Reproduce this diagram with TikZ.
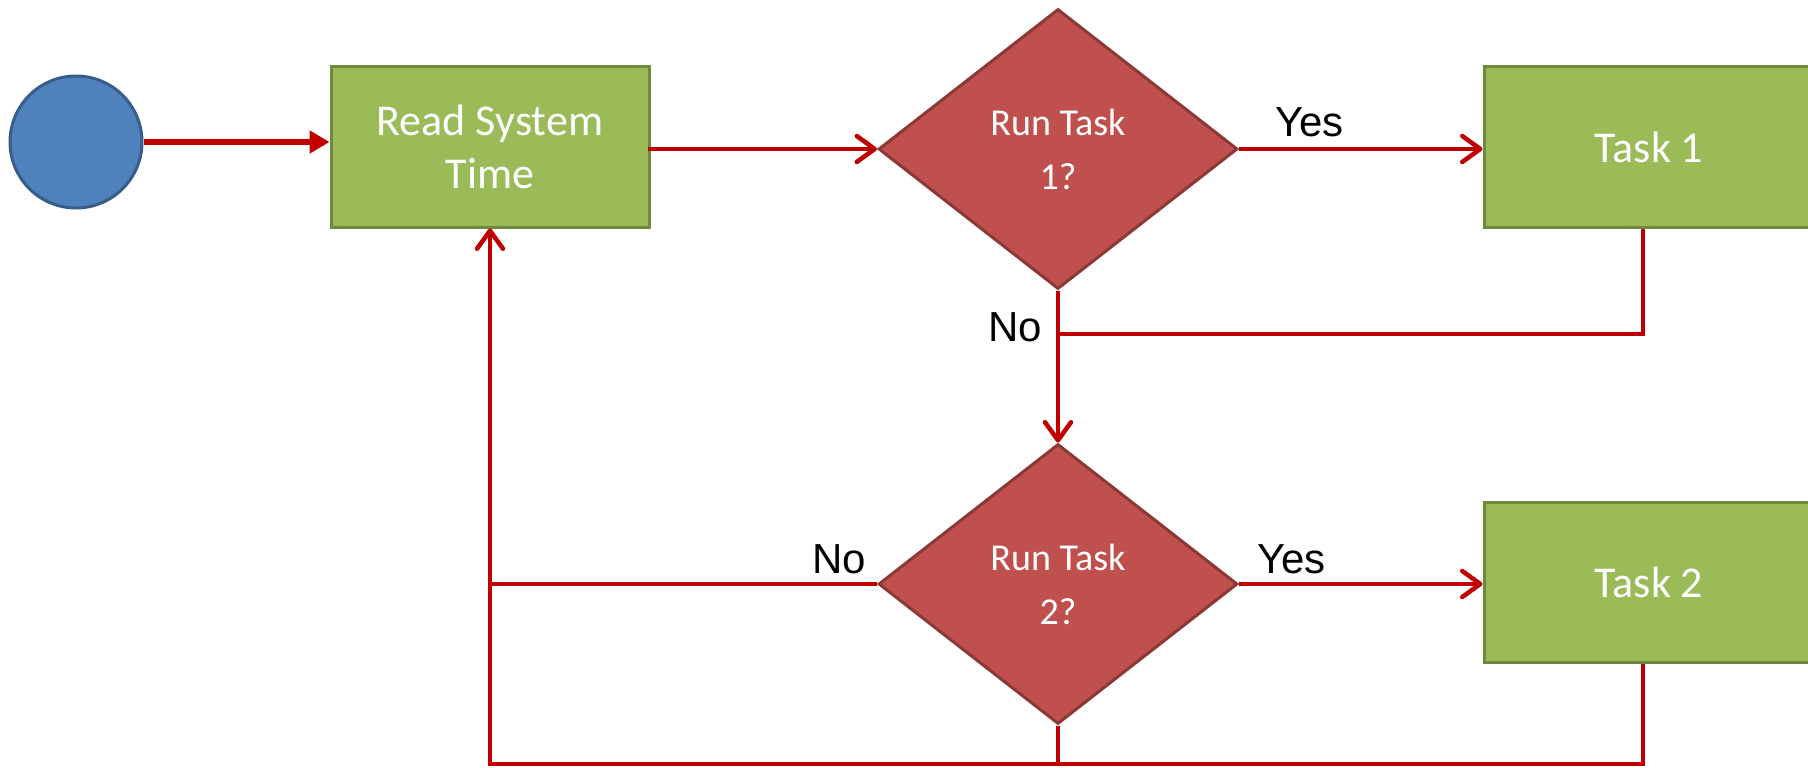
\documentclass[tikz,border=0pt]{standalone}
\usepackage{fontspec}
\setmainfont{Carlito}
\newfontfamily\labelfont{Liberation Sans}
\usetikzlibrary{shapes.geometric,arrows.meta}

\definecolor{startfill}{HTML}{4F81BD}
\definecolor{startline}{HTML}{385D8A}
\definecolor{boxfill}{HTML}{9BBB59}
\definecolor{boxline}{HTML}{71893F}
\definecolor{decfill}{HTML}{C0504D}
\definecolor{decline}{HTML}{8C3836}
\definecolor{flow}{HTML}{C00000}

\tikzset{
  startnode/.style={circle, minimum size=132pt, inner sep=0pt, fill=startfill, draw=startline, line width=3pt},
  procbox/.style={rectangle, minimum width=318pt, minimum height=160pt, inner sep=0pt,
    fill=boxfill, draw=boxline, line width=3pt, text=white, align=center,
    font=\fontsize{44}{53}\selectfont},
  decision/.style={diamond, minimum width=359pt, minimum height=280pt, inner sep=0pt,
    fill=decfill, draw=decline, line width=3pt, text=white, align=center,
    font=\fontsize{38}{54}\selectfont},
  flowline/.style={draw=flow, line width=4.5pt},
  flowarrow/.style={flowline, -{Straight Barb[length=18pt, width=26pt, line width=4.5pt, round]}},
  firstarrow/.style={draw=flow, line width=6pt, -{Triangle[length=20pt, width=22pt]}},
  answer/.style={font=\labelfont\fontsize{42}{42}\selectfont, text=black, inner sep=0pt}
}

\begin{document}
\begin{tikzpicture}[x=1pt, y=-1pt]
  \useasboundingbox (0,0) rectangle (1808,768);

  % shapes
  \node[startnode] (start) at (76,142) {};
  \node[procbox] (read) at (490,147) {Read System\\Time};
  \node[decision] (d1) at (1058,149) {Run Task\\1?};
  \node[procbox, minimum width=330pt] (task1) at (1649,147) {Task 1};
  \node[decision] (d2) at (1058,584) {Run Task\\2?};
  \node[procbox, minimum width=330pt] (task2) at (1649,582) {Task 2};

  % routing points
  \coordinate (t1out) at ([xshift=-6pt]task1.south);
  \coordinate (t2out) at ([xshift=-6pt]task2.south);
  \coordinate (join1) at (d1.south |- 0,334);
  \coordinate (loopleft) at (read.south |- 0,764);
  \coordinate (loopmid) at (d2.south |- 0,764);

  % main flow
  \draw[firstarrow] (start.east) -- (start.east -| read.west);
  \draw[flowarrow] (read.east) -- (d1.west -| read.east) -- (d1.west);
  \draw[flowarrow] (d1.east) -- (d1.east -| task1.west);
  \draw[flowarrow] (d1.south) -- (d2.north);
  \draw[flowarrow] (d2.east) -- (d2.east -| task2.west);

  % returns
  \draw[flowline] (t1out) |- (join1);
  \draw[flowline] (d2.west) -- (d2.west -| read.south);
  \draw[flowline] (d2.south) -- (loopmid);
  \draw[flowarrow] (t2out) |- (loopleft) -- (read.south);

  % branch labels
  \node[answer, anchor=base west] (yes1) at (1275,136) {Yes};
  \node[answer, anchor=base east] (no1) at (1042,341) {No};
  \node[answer, anchor=base west] (yes2) at (1257,573) {Yes};
  \node[answer, anchor=base east] (no2) at (866,573) {No};
\end{tikzpicture}
\end{document}
